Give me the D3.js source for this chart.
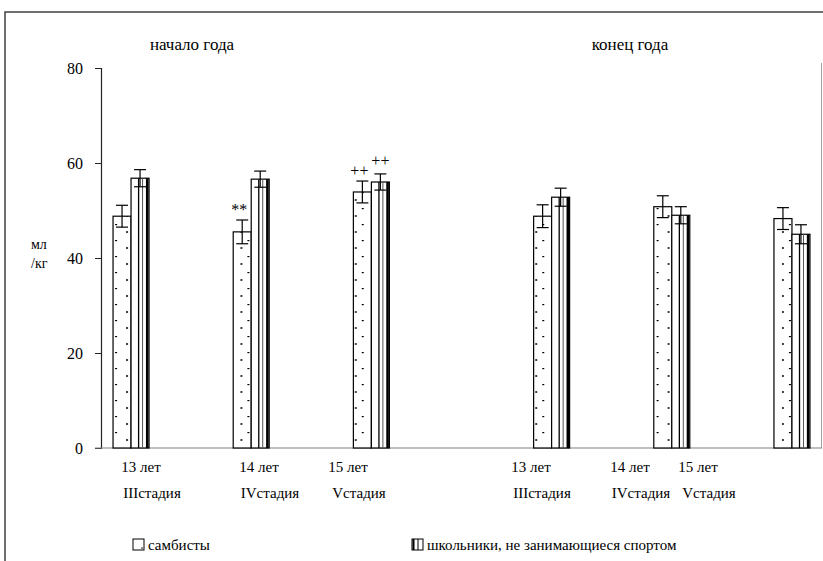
<!DOCTYPE html>
<html>
<head>
<meta charset="utf-8">
<script src="https://cdn.jsdelivr.net/npm/d3@7"></script>
<style>
  body { margin: 0; background: #fff; }
</style>
</head>
<body>
<svg id="chart" width="823" height="561"></svg>
<script>
// data
const periods = ['начало года', 'конец года'];
const ages = ['13 лет', '14 лет', '15 лет', '13 лет', '14 лет', '15 лет'];
const stages = ['IIIстадия', 'IVстадия', 'Vстадия', 'IIIстадия', 'IVстадия', 'Vстадия'];
const sambo = [48.8, 45.5, 53.9, 48.8, 50.8, 48.3];
const samboErr = [2.3, 2.5, 2.3, 2.4, 2.3, 2.3];
const school = [56.8, 56.6, 56.0, 52.8, 49.0, 45.0];
const schoolErr = [1.8, 1.7, 1.7, 1.9, 1.8, 2.0];
const samboMarks = ['', '**', '++', '', '', ''];
const schoolMarks = ['', '', '++', '', '', ''];
const yTicks = [0, 20, 40, 60, 80];
const legendLabels = ['самбисты', 'школьники, не занимающиеся спортом'];

// layout
const W = 823, H = 561;
const FONT = '"Liberation Serif", "Times New Roman", serif';
const plot = { left: 101, right: 822, top: 68, bottom: 448 };
const slotOf = [0, 2, 4, 7, 9, 11];        // which of the 12 category slots hold a group
const labelCenter = [141, 259, 348, 531, 630, 698];
const periodCenter = [192, 630];
const barW = 18;

const svg = d3.select('#chart');

const x = d3.scaleBand()
  .domain(d3.range(12))
  .range([plot.left, plot.right]);

const y = d3.scaleLinear()
  .domain([0, 80])
  .range([plot.bottom, plot.top]);

// outer frame (top and left only are visible)
svg.append('path')
  .attr('d', `M5,${H} V12 H${W}`)
  .attr('fill', 'none')
  .attr('stroke', '#404040')
  .attr('stroke-width', 1.5);

// plot area right edge
svg.append('line')
  .attr('x1', plot.right - 0.5).attr('x2', plot.right - 0.5)
  .attr('y1', plot.top - 5).attr('y2', plot.bottom)
  .attr('stroke', '#a0a0a0');

// y axis
const yAxis = svg.append('g')
  .attr('transform', `translate(${plot.left},0)`)
  .call(d3.axisLeft(y).tickValues(yTicks).tickSize(6).tickPadding(12));
yAxis.attr('font-family', FONT).attr('font-size', 16);
yAxis.select('.domain').attr('stroke', '#222').attr('stroke-width', 1.2);
yAxis.selectAll('.tick line').attr('stroke', '#222');
yAxis.selectAll('.tick text').attr('fill', '#000');

function txt(sel, size) {
  return sel.attr('font-family', FONT).attr('font-size', size).attr('fill', '#000');
}

// y label
txt(svg.append('text').attr('x', 31).attr('y', 249).text('мл'), 14);
txt(svg.append('text').attr('x', 31).attr('y', 268).text('/кг'), 14);

// dotted pattern, one per bar so the dots line up with the bar
const defs = svg.append('defs');
const dotPat = defs.selectAll('pattern.dots')
  .data(sambo)
  .join('pattern')
  .attr('class', 'dots')
  .attr('id', (d, i) => 'dots' + i)
  .attr('patternUnits', 'userSpaceOnUse')
  .attr('x', (d, i) => x(slotOf[i]) + x.bandwidth() / 2 - barW)
  .attr('y', plot.bottom)
  .attr('width', barW)
  .attr('height', 16);
dotPat.append('rect').attr('width', barW).attr('height', 16).attr('fill', '#fff');
dotPat.append('circle').attr('cx', barW / 2).attr('cy', 8).attr('r', 1).attr('fill', '#000');
dotPat.append('rect').attr('x', barW - 3).attr('y', 0).attr('width', 2).attr('height', 1.2).attr('fill', '#000');

// baseline
svg.append('line')
  .attr('x1', 95).attr('x2', plot.right)
  .attr('y1', plot.bottom).attr('y2', plot.bottom)
  .attr('stroke', '#808080').attr('stroke-width', 1.2);

const groups = svg.append('g').selectAll('g')
  .data(ages.map((a, i) => i))
  .join('g')
  .attr('transform', i => `translate(${x(slotOf[i]) + x.bandwidth() / 2},0)`);

// самбисты bars
groups.append('rect')
  .attr('x', -barW)
  .attr('y', i => y(sambo[i]))
  .attr('width', barW)
  .attr('height', i => y(0) - y(sambo[i]))
  .attr('fill', i => `url(#dots${i})`)
  .attr('stroke', '#000')
  .attr('stroke-width', 1.2);

// школьники bars with vertical stripes
groups.append('rect')
  .attr('x', 0)
  .attr('y', i => y(school[i]))
  .attr('width', barW)
  .attr('height', i => y(0) - y(school[i]))
  .attr('fill', '#fff')
  .attr('stroke', '#000')
  .attr('stroke-width', 1.2);
groups.append('line')
  .attr('x1', barW * 0.42).attr('x2', barW * 0.42)
  .attr('y1', i => y(school[i])).attr('y2', y(0))
  .attr('stroke', '#000').attr('stroke-width', 1.3);
groups.append('line')
  .attr('x1', barW * 0.64).attr('x2', barW * 0.64)
  .attr('y1', i => y(school[i])).attr('y2', y(0))
  .attr('stroke', '#555').attr('stroke-width', 1);
groups.append('line')
  .attr('x1', barW - 1.8).attr('x2', barW - 1.8)
  .attr('y1', i => y(school[i])).attr('y2', y(0))
  .attr('stroke', '#000').attr('stroke-width', 2.6);

// error bars
function errorBars(vals, errs, cx) {
  const eb = groups.append('g').attr('stroke', '#000').attr('stroke-width', 1.2);
  eb.append('line')
    .attr('x1', cx).attr('x2', cx)
    .attr('y1', i => y(vals[i] + errs[i])).attr('y2', i => y(vals[i] - errs[i]));
  [1, -1].forEach(s => {
    eb.append('line')
      .attr('x1', cx - 6).attr('x2', cx + 6)
      .attr('y1', i => y(vals[i] + s * errs[i])).attr('y2', i => y(vals[i] + s * errs[i]));
  });
}
errorBars(sambo, samboErr, -barW / 2);
errorBars(school, schoolErr, barW / 2);

// significance marks
txt(groups.append('text')
  .attr('x', -barW / 2 - 3)
  .attr('y', i => y(sambo[i] + samboErr[i]) - 5)
  .attr('text-anchor', 'middle')
  .text(i => samboMarks[i]), 16);
txt(groups.append('text')
  .attr('x', barW / 2)
  .attr('y', i => y(school[i] + schoolErr[i]) - 8)
  .attr('text-anchor', 'middle')
  .text(i => schoolMarks[i]), 16);

// category labels
const labels = svg.append('g').selectAll('g')
  .data(ages.map((a, i) => i))
  .join('g')
  .attr('transform', i => `translate(${labelCenter[i]},0)`);
txt(labels.append('text')
  .attr('x', 0).attr('y', 472)
  .attr('text-anchor', 'middle')
  .text(i => ages[i]), 15);
txt(labels.append('text')
  .attr('x', 11).attr('y', 498)
  .attr('text-anchor', 'middle')
  .text(i => stages[i]), 15);

// period headers
txt(svg.append('g').selectAll('text')
  .data(periods)
  .join('text')
  .attr('x', (d, i) => periodCenter[i])
  .attr('y', 50)
  .attr('text-anchor', 'middle')
  .text(d => d), 17);

// legend
const legendX = [133, 412];
const legend = svg.append('g').selectAll('g')
  .data(legendLabels)
  .join('g')
  .attr('transform', (d, i) => `translate(${legendX[i]},539)`);
legend.append('rect')
  .attr('width', 11).attr('height', 11)
  .attr('fill', '#fff').attr('stroke', '#000').attr('stroke-width', 1);
legend.filter((d, i) => i === 0).append('circle')
  .attr('cx', 9).attr('cy', 9).attr('r', 0.8).attr('fill', '#000');
legend.filter((d, i) => i === 1).append('line')
  .attr('x1', 1.5).attr('x2', 1.5).attr('y1', 0).attr('y2', 11)
  .attr('stroke', '#000').attr('stroke-width', 2);
legend.filter((d, i) => i === 1).append('line')
  .attr('x1', 6).attr('x2', 6).attr('y1', 0).attr('y2', 11)
  .attr('stroke', '#000').attr('stroke-width', 1);
txt(legend.append('text')
  .attr('x', 15).attr('y', 11)
  .text(d => d), 15);
</script>
</body>
</html>
